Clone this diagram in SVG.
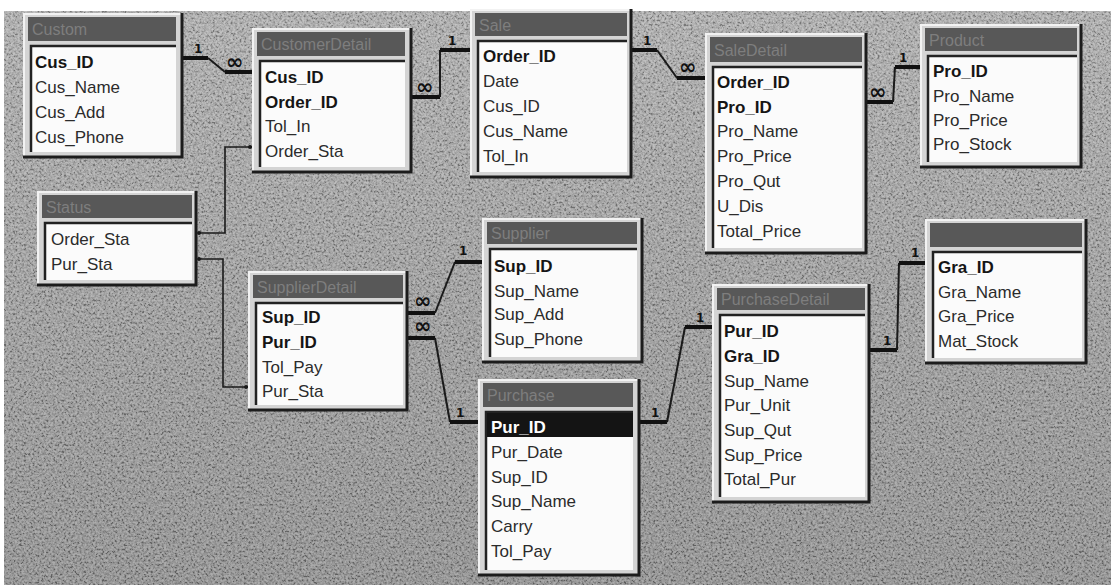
<svg xmlns="http://www.w3.org/2000/svg" width="1111" height="585" viewBox="0 0 1111 585">
<style>
.frame{fill:#d4d4d4}
.odk{fill:none;stroke:#1c1c1c;stroke-width:3}
.olt{fill:none;stroke:#f2f2f2;stroke-width:2}
.title{fill:#585858}
.tt{font-family:"Liberation Sans",Arial,sans-serif;font-size:16px;fill:#7e7e7e}
.list{fill:#fbfbfb}
.ldk{fill:none;stroke:#222;stroke-width:2.5}
.f{font-family:"Liberation Sans",Arial,sans-serif;font-size:17px;fill:#2b2b2b}
.b{font-weight:bold;fill:#151515}
.hl{fill:#141414}
.w{fill:#ffffff;font-weight:bold}
.stub{fill:none;stroke:#111;stroke-width:4}
.ln{fill:none;stroke:#1a1a1a;stroke-width:2}
.thin{fill:none;stroke:#1a1a1a;stroke-width:1.6}
.dot{fill:#1a1a1a}
.one{font-family:"DejaVu Sans",sans-serif;font-size:12px;font-weight:bold;fill:#111}
.inf{font-family:"DejaVu Sans",sans-serif;font-size:21px;font-weight:bold;fill:#111}
</style>
<defs>
<linearGradient id="bg" x1="0" y1="0" x2="0" y2="1">
<stop offset="0" stop-color="#ababab"/>
<stop offset="0.45" stop-color="#9a9a9a"/>
<stop offset="1" stop-color="#878787"/>
</linearGradient>
<filter id="noise" x="0" y="0" width="100%" height="100%">
<feTurbulence type="fractalNoise" baseFrequency="0.45" numOctaves="3" seed="7"/>
<feColorMatrix type="matrix" values="2.2 0 0 0 -0.6  2.2 0 0 0 -0.6  2.2 0 0 0 -0.6  0 0 0 0 0.3"/>
</filter>
</defs>
<rect x="0" y="0" width="1111" height="585" fill="#ffffff"/>
<rect x="4" y="11" width="1107" height="574" fill="url(#bg)"/>
<rect x="4" y="11" width="1107" height="574" filter="url(#noise)"/>

<g id="connectors">
<path class="stub" d="M183,58 H208"/><path class="ln" d="M208,58 L225,72"/><path class="stub" d="M225,72 H252"/>
<text class="one" x="194" y="53">1</text><text class="inf" x="226" y="69">∞</text>
<path class="stub" d="M412,97 H440"/><path class="ln" d="M440,97 V50"/><path class="stub" d="M440,50 H470"/>
<text class="inf" x="416" y="94">∞</text><text class="one" x="448" y="45">1</text>
<path class="stub" d="M632,50 H657"/><path class="ln" d="M657,50 L677,78"/><path class="stub" d="M677,78 H705"/>
<text class="one" x="643" y="45">1</text><text class="inf" x="679" y="74">∞</text>
<path class="stub" d="M867,102 H893"/><path class="ln" d="M893,102 L895,67"/><path class="stub" d="M895,67 H920"/>
<text class="inf" x="869" y="99">∞</text><text class="one" x="899" y="62">1</text>
<path class="thin" d="M198,233 H225 V147 H252"/>
<circle class="dot" cx="199" cy="233" r="2"/><circle class="dot" cx="250" cy="147" r="2"/>
<path class="thin" d="M198,259 H223 V387 H248"/>
<circle class="dot" cx="199" cy="259" r="2"/><circle class="dot" cx="246" cy="387" r="2"/>
<path class="stub" d="M408,313 H435"/><path class="ln" d="M435,313 L455,262"/><path class="stub" d="M455,262 H482"/>
<text class="inf" x="414" y="308">∞</text><text class="one" x="459" y="255">1</text>
<path class="stub" d="M408,338 H435"/><path class="ln" d="M435,338 L450,422"/><path class="stub" d="M450,422 H478"/>
<text class="inf" x="414" y="333">∞</text><text class="one" x="456" y="417">1</text>
<path class="stub" d="M640,422 H667"/><path class="ln" d="M667,422 L685,327"/><path class="stub" d="M685,327 H712"/>
<text class="one" x="651" y="417">1</text><text class="one" x="696" y="322">1</text>
<path class="stub" d="M870,350 H897"/><path class="ln" d="M897,350 L899,263"/><path class="stub" d="M899,263 H925"/>
<text class="one" x="883" y="345">1</text><text class="one" x="911" y="257">1</text>
</g>

<g id="t-custom">
<rect class="frame" x="23" y="13" width="160" height="145"/>
<path class="olt" d="M24,157 V14 H182"/><path class="odk" d="M182,13 V157 H23"/>
<rect class="title" x="28" y="17" width="148" height="24"/>
<text class="tt" x="32" y="35">Custom</text>
<rect class="list" x="30" y="45" width="146" height="107"/>
<path class="ldk" d="M31,152 V46 H176"/>
<text class="f b" x="35" y="68">Cus_ID</text>
<text class="f" x="35" y="93">Cus_Name</text>
<text class="f" x="35" y="118">Cus_Add</text>
<text class="f" x="35" y="143">Cus_Phone</text>
</g>

<g id="t-customerdetail">
<rect class="frame" x="252" y="28" width="160" height="145"/>
<path class="olt" d="M253,172 V29 H411"/><path class="odk" d="M411,28 V172 H252"/>
<rect class="title" x="257" y="32" width="148" height="24"/>
<text class="tt" x="261" y="50">CustomerDetail</text>
<rect class="list" x="259" y="60" width="146" height="107"/>
<path class="ldk" d="M260,167 V61 H405"/>
<text class="f b" x="265" y="83">Cus_ID</text>
<text class="f b" x="265" y="108">Order_ID</text>
<text class="f" x="265" y="132">Tol_In</text>
<text class="f" x="265" y="157">Order_Sta</text>
</g>

<g id="t-sale">
<rect class="frame" x="470" y="9" width="162" height="169"/>
<path class="olt" d="M471,177 V10 H631"/><path class="odk" d="M631,9 V177 H470"/>
<rect class="title" x="475" y="13" width="152" height="23"/>
<text class="tt" x="479" y="31">Sale</text>
<rect class="list" x="477" y="40" width="150" height="132"/>
<path class="ldk" d="M478,172 V41 H627"/>
<text class="f b" x="483" y="62">Order_ID</text>
<text class="f" x="483" y="87">Date</text>
<text class="f" x="483" y="112">Cus_ID</text>
<text class="f" x="483" y="137">Cus_Name</text>
<text class="f" x="483" y="162">Tol_In</text>
</g>

<g id="t-saledetail">
<rect class="frame" x="705" y="33" width="162" height="221"/>
<path class="olt" d="M706,253 V34 H866"/><path class="odk" d="M866,33 V253 H705"/>
<rect class="title" x="710" y="37" width="152" height="25"/>
<text class="tt" x="714" y="56">SaleDetail</text>
<rect class="list" x="712" y="66" width="150" height="182"/>
<path class="ldk" d="M713,248 V67 H862"/>
<text class="f b" x="717" y="88">Order_ID</text>
<text class="f b" x="717" y="113">Pro_ID</text>
<text class="f" x="717" y="137">Pro_Name</text>
<text class="f" x="717" y="162">Pro_Price</text>
<text class="f" x="717" y="187">Pro_Qut</text>
<text class="f" x="717" y="212">U_Dis</text>
<text class="f" x="717" y="237">Total_Price</text>
</g>

<g id="t-product">
<rect class="frame" x="920" y="24" width="162" height="144"/>
<path class="olt" d="M921,167 V25 H1081"/><path class="odk" d="M1081,24 V167 H920"/>
<rect class="title" x="925" y="28" width="152" height="23"/>
<text class="tt" x="929" y="46">Product</text>
<rect class="list" x="927" y="55" width="150" height="107"/>
<path class="ldk" d="M928,162 V56 H1077"/>
<text class="f b" x="933" y="77">Pro_ID</text>
<text class="f" x="933" y="102">Pro_Name</text>
<text class="f" x="933" y="126">Pro_Price</text>
<text class="f" x="933" y="150">Pro_Stock</text>
</g>

<g id="t-status">
<rect class="frame" x="37" y="191" width="160" height="95"/>
<path class="olt" d="M38,285 V192 H196"/><path class="odk" d="M196,191 V285 H37"/>
<rect class="title" x="42" y="195" width="150" height="23"/>
<text class="tt" x="46" y="213">Status</text>
<rect class="list" x="44" y="222" width="148" height="58"/>
<path class="ldk" d="M45,280 V223 H192"/>
<text class="f" x="51" y="245">Order_Sta</text>
<text class="f" x="51" y="270">Pur_Sta</text>
</g>

<g id="t-supplierdetail">
<rect class="frame" x="248" y="271" width="160" height="140"/>
<path class="olt" d="M249,410 V272 H407"/><path class="odk" d="M407,271 V410 H248"/>
<rect class="title" x="253" y="275" width="150" height="23"/>
<text class="tt" x="257" y="293">SupplierDetail</text>
<rect class="list" x="255" y="302" width="148" height="103"/>
<path class="ldk" d="M256,405 V303 H403"/>
<text class="f b" x="262" y="323">Sup_ID</text>
<text class="f b" x="262" y="348">Pur_ID</text>
<text class="f" x="262" y="373">Tol_Pay</text>
<text class="f" x="262" y="397">Pur_Sta</text>
</g>

<g id="t-supplier">
<rect class="frame" x="482" y="218" width="161" height="145"/>
<path class="olt" d="M483,362 V219 H642"/><path class="odk" d="M642,218 V362 H482"/>
<rect class="title" x="487" y="222" width="150" height="22"/>
<text class="tt" x="491" y="239">Supplier</text>
<rect class="list" x="489" y="248" width="148" height="109"/>
<path class="ldk" d="M490,357 V249 H637"/>
<text class="f b" x="494" y="272">Sup_ID</text>
<text class="f" x="494" y="297">Sup_Name</text>
<text class="f" x="494" y="320">Sup_Add</text>
<text class="f" x="494" y="345">Sup_Phone</text>
</g>

<g id="t-purchase">
<rect class="frame" x="478" y="379" width="162" height="197"/>
<path class="olt" d="M479,575 V380 H639"/><path class="odk" d="M639,379 V575 H478"/>
<rect class="title" x="483" y="383" width="150" height="24"/>
<text class="tt" x="487" y="401">Purchase</text>
<rect class="list" x="485" y="411" width="148" height="159"/>
<path class="ldk" d="M486,570 V412 H633"/>
<rect class="hl" x="487" y="413" width="146" height="24"/>
<text class="f w" x="491" y="433">Pur_ID</text>
<text class="f" x="491" y="458">Pur_Date</text>
<text class="f" x="491" y="483">Sup_ID</text>
<text class="f" x="491" y="507">Sup_Name</text>
<text class="f" x="491" y="532">Carry</text>
<text class="f" x="491" y="557">Tol_Pay</text>
</g>

<g id="t-purchasedetail">
<rect class="frame" x="712" y="284" width="158" height="219"/>
<path class="olt" d="M713,502 V285 H869"/><path class="odk" d="M869,284 V502 H712"/>
<rect class="title" x="717" y="288" width="148" height="22"/>
<text class="tt" x="721" y="305">PurchaseDetail</text>
<rect class="list" x="719" y="314" width="146" height="183"/>
<path class="ldk" d="M720,497 V315 H865"/>
<text class="f b" x="724" y="337">Pur_ID</text>
<text class="f b" x="724" y="362">Gra_ID</text>
<text class="f" x="724" y="387">Sup_Name</text>
<text class="f" x="724" y="411">Pur_Unit</text>
<text class="f" x="724" y="436">Sup_Qut</text>
<text class="f" x="724" y="461">Sup_Price</text>
<text class="f" x="724" y="485">Total_Pur</text>
</g>

<g id="t-gra">
<rect class="frame" x="925" y="219" width="162" height="145"/>
<path class="olt" d="M926,363 V220 H1086"/><path class="odk" d="M1086,219 V363 H925"/>
<rect class="title" x="930" y="223" width="152" height="24"/>
<rect class="list" x="932" y="251" width="150" height="107"/>
<path class="ldk" d="M933,358 V252 H1082"/>
<text class="f b" x="938" y="273">Gra_ID</text>
<text class="f" x="938" y="298">Gra_Name</text>
<text class="f" x="938" y="322">Gra_Price</text>
<text class="f" x="938" y="347">Mat_Stock</text>
</g>
</svg>
